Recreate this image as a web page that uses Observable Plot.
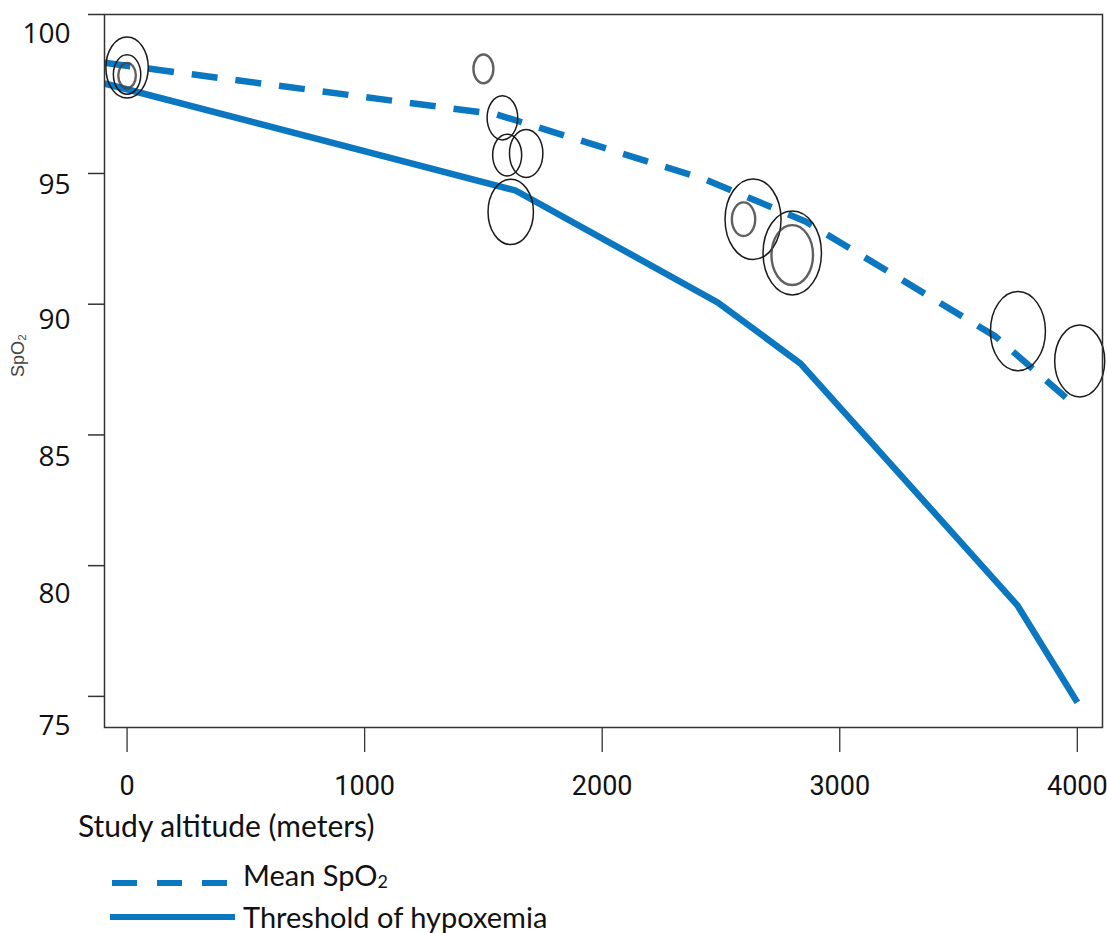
<!DOCTYPE html>
<html>
<head>
<meta charset="utf-8">
<script src="https://cdn.jsdelivr.net/npm/d3@7"></script>
<script src="https://cdn.jsdelivr.net/npm/@observablehq/plot@0.6"></script>
<style>
  html, body { margin: 0; padding: 0; background: #fff; }
  #wrap { position: relative; width: 1107px; height: 933px; overflow: hidden; }
  .lbl { position: absolute; font-family: Lato, "Open Sans", sans-serif; color: #111; line-height: 1; white-space: nowrap; }
  .sample { position: absolute; }
</style>
</head>
<body>
<div id="wrap"></div>
<script>
// ---- data ----
const xTicks = [0, 1000, 2000, 3000, 4000];
const yTicks = [75, 80, 85, 90, 95, 100];

// Mean SpO2 curve (altitude in meters, SpO2 %)
const meanAltitude = [-95, 1555, 2435, 2856, 3655, 4000];
const meanSpO2     = [98.48, 96.86, 94.77, 93.16, 88.77, 86.05];

// Threshold of hypoxemia curve
const threshAltitude = [-95, 1635, 2486, 2835, 3748, 4000];
const threshSpO2     = [97.83, 94.35, 90.07, 87.73, 78.48, 74.77];

// Study bubbles
const studyAltitude = [0, 0, 0, 1500, 1580, 1600, 1680, 1615, 2635, 2595, 2800, 2800, 3750, 4010];
const studySpO2     = [98.33, 98.11, 98.08, 98.29, 96.75, 95.58, 95.63, 93.53, 93.25, 93.25, 91.96, 91.88, 88.97, 87.83];
const studyWeight   = [52.7, 22, 9.1, 11.7, 27.5, 24.7, 32.7, 60.4, 92, 16, 100, 50.7, 88.7, 73.3];
const studyGroup    = ["a","a","b","b","a","a","a","a","a","b","a","b","a","a"];

// ---- build tables ----
const meanData = meanAltitude.map((a, i) => ({alt: a, spo2: meanSpO2[i]}));
const threshData = threshAltitude.map((a, i) => ({alt: a, spo2: threshSpO2[i]}));
const studies = studyAltitude.map((a, i) => ({alt: a, spo2: studySpO2[i], w: studyWeight[i], g: studyGroup[i]}));

// The original axis is stretched above 95 (95–100 spans more pixels than each lower 5-unit step)
const STRETCH = 31.8 / 26.15;
const yWarp = v => v >= 95 ? 95 + (v - 95) * STRETCH : v;

// ellipse symbol (the original chart's bubbles are stretched vertically)
const ASPECT = 1.44;
const ellipse = {
  draw(ctx, size) {
    const rx = Math.sqrt(size / Math.PI), ry = rx * ASPECT, k = 0.5522847498;
    ctx.moveTo(rx, 0);
    ctx.bezierCurveTo(rx, ry * k, rx * k, ry, 0, ry);
    ctx.bezierCurveTo(-rx * k, ry, -rx, ry * k, -rx, 0);
    ctx.bezierCurveTo(-rx, -ry * k, -rx * k, -ry, 0, -ry);
    ctx.bezierCurveTo(rx * k, -ry, rx, -ry * k, rx, 0);
    ctx.closePath();
  }
};

const blue = "#0a77c0";
// vertical offsets of the y tick labels below their ticks, as in the original
const yLabelShift = {75: 30, 80: 28, 85: 22, 90: 16, 95: 12, 100: 20};

const chart = Plot.plot({
  width: 1107,
  height: 805,
  marginLeft: 104,
  marginRight: 5,
  marginTop: 14,
  marginBottom: 78,
  style: {background: "#fff", color: "#111", fontFamily: "Open Sans, sans-serif"},
  x: {domain: [-95, 4106]},
  y: {transform: yWarp, domain: [73.81, yWarp(100)]},
  r: {domain: [0, 100], range: [0, 29.2]},
  marks: [
    Plot.line(threshData, {x: "alt", y: "spo2", stroke: blue, strokeWidth: 6.5, strokeLinecap: "butt", strokeLinejoin: "miter", strokeMiterlimit: 4}),
    Plot.line(meanData, {x: "alt", y: "spo2", stroke: blue, strokeWidth: 6.5, strokeDasharray: "26,18", strokeLinecap: "butt", strokeLinejoin: "round"}),
    Plot.dot(studies.filter(d => d.g === "a"), {x: "alt", y: "spo2", r: "w", symbol: ellipse, fill: "none", stroke: "#1a1a1a", strokeWidth: 1.5}),
    Plot.dot(studies.filter(d => d.g === "b"), {x: "alt", y: "spo2", r: "w", symbol: ellipse, fill: "none", stroke: "#444", strokeWidth: 2.4, strokeOpacity: 0.85}),
    Plot.frame({stroke: "#333", strokeWidth: 1.5}),
    Plot.axisY(yTicks, {tickSize: 16, fill: "none", label: null, stroke: "#333", strokeWidth: 1.5}),
    ...yTicks.map(t => Plot.axisY([t], {tickSize: 0, tickPadding: 34, dy: yLabelShift[t], fontSize: 28, label: null, fill: "#111", fontFamily: "Open Sans, sans-serif", tickFormat: d => String(d)})),
    Plot.axisX(xTicks, {tickSize: 25, tickPadding: 23, fontSize: 27, label: null, stroke: "#333", strokeWidth: 1.3, fill: "#111", fontFamily: "Roboto, sans-serif", tickFormat: d => String(d)}),
    Plot.text(["SpO₂"], {text: d => d, frameAnchor: "left", dx: -86, dy: 6, rotate: -90, fontSize: 18, fill: "#444", fontFamily: "Liberation Sans, sans-serif"})
  ]
});

const wrap = document.getElementById("wrap");
wrap.appendChild(chart);

function addLabel(html, left, top, size) {
  const d = document.createElement("div");
  d.className = "lbl";
  d.style.left = left + "px";
  d.style.top = top + "px";
  d.style.fontSize = size + "px";
  d.innerHTML = html;
  wrap.appendChild(d);
}
function addSample(dashed, left, top) {
  const ns = "http://www.w3.org/2000/svg";
  const s = document.createElementNS(ns, "svg");
  s.setAttribute("class", "sample");
  s.setAttribute("width", 130);
  s.setAttribute("height", 10);
  s.style.left = left + "px";
  s.style.top = top + "px";
  const l = document.createElementNS(ns, "line");
  l.setAttribute("x1", 0); l.setAttribute("x2", dashed ? 115 : 125);
  l.setAttribute("y1", 5); l.setAttribute("y2", 5);
  l.setAttribute("stroke", blue); l.setAttribute("stroke-width", 6);
  if (dashed) l.setAttribute("stroke-dasharray", "25,20");
  s.appendChild(l);
  wrap.appendChild(s);
}

addLabel("Study altitude (meters)", 78, 810, 30);
addSample(true, 112, 878);
addLabel("Mean SpO<sub style='font-size:0.62em;vertical-align:-0.1em'>2</sub>", 243, 860, 29);
addSample(false, 110, 912);
addLabel("Threshold of hypoxemia", 243, 902, 29);
</script>
</body>
</html>
